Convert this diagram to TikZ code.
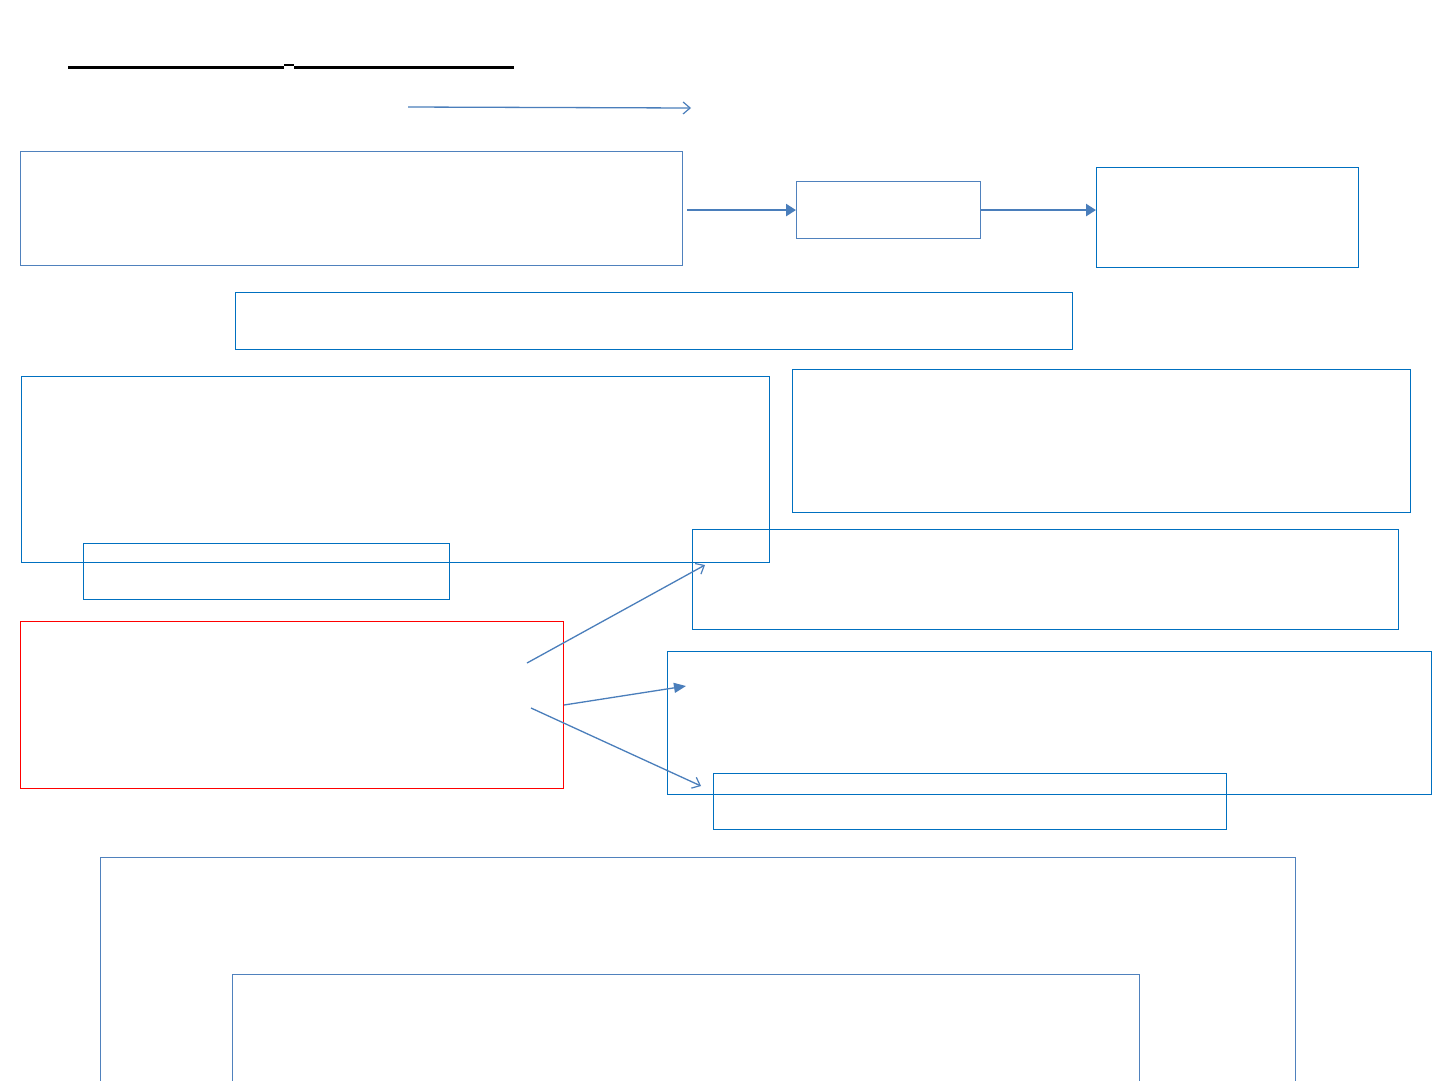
\documentclass[tikz,border=0pt]{standalone}
\usetikzlibrary{arrows.meta}
\definecolor{boxblue}{HTML}{0070C0}
\definecolor{steel}{HTML}{4F81BD}
\definecolor{arrblue}{HTML}{4A7EBB}
\begin{document}
\begin{tikzpicture}[x=1pt,y=-1pt,
  box/.style={draw=boxblue,line width=1.1pt,rectangle,inner sep=0pt,anchor=north west},
  sbox/.style={draw=steel,line width=1.1pt,rectangle,inner sep=0pt,anchor=north west},
  rbox/.style={draw=red,line width=1.1pt,rectangle,inner sep=0pt,anchor=north west},
  openarr/.style={draw=arrblue,line width=1.3pt,-{Straight Barb[length=7pt,width=12pt,line width=1.2pt]}},
  fillarr/.style={draw=arrblue,line width=2.6pt,-{Triangle[length=10pt,width=12pt]}}]
\useasboundingbox[fill=white] (0,0) rectangle (1440,1080);
\begin{scope}
\clip (0,0) rectangle (1440,1080);
% title underline
\draw[line width=3pt] (68,67) -- (284,67);
\draw[line width=2pt] (284,65) -- (294,65);
\draw[line width=3pt] (294,67) -- (514,67);
% top arrow
\coordinate (ta) at (408,107);
\coordinate (tb) at (691,108);
\draw[openarr] (ta) -- (tb);
% boxes
\node[sbox,minimum width=662pt,minimum height=114pt] (A) at (20,151) {};
\node[sbox,minimum width=184pt,minimum height=57pt] (B) at (796,181) {};
\node[box,minimum width=262pt,minimum height=100pt] (C) at (1096,167) {};
\node[box,minimum width=837pt,minimum height=57pt] (D) at (235,292) {};
\node[box,minimum width=748pt,minimum height=186pt] (E) at (21,376) {};
\node[box,minimum width=618pt,minimum height=143pt] (F) at (792,369) {};
\node[box,minimum width=366pt,minimum height=56pt] (G) at (83,543) {};
\node[rbox,minimum width=543pt,minimum height=167pt] (H) at (20,621) {};
\node[box,minimum width=706pt,minimum height=100pt] (I) at (692,529) {};
\node[box,minimum width=764pt,minimum height=143pt] (J) at (667,651) {};
\node[box,minimum width=513pt,minimum height=56pt] (K) at (713,773) {};
\node[sbox,minimum width=1195pt,minimum height=260pt] (L) at (100,857) {};
\node[sbox,minimum width=907pt,minimum height=140pt] (M) at (232,974) {};
% connectors between top boxes
\coordinate (a1) at ([xshift=4pt]A.east |- B.west);
\draw[fillarr] (a1) -- (B.west);
\draw[fillarr] (B.east) -- (B.east -| C.west);
% arrows from red box
\coordinate (h1) at (527,663);
\coordinate (i1) at (705,565);
\coordinate (h2) at (564,705);
\coordinate (j1) at (686,686);
\coordinate (h3) at (531,708);
\coordinate (k1) at (701,786);
\draw[openarr] (h1) -- (i1);
\draw[draw=arrblue,line width=1.3pt,-{Triangle[length=12pt,width=10pt]}] (h2) -- (j1);
\draw[openarr] (h3) -- (k1);
\end{scope}
\end{tikzpicture}
\end{document}
